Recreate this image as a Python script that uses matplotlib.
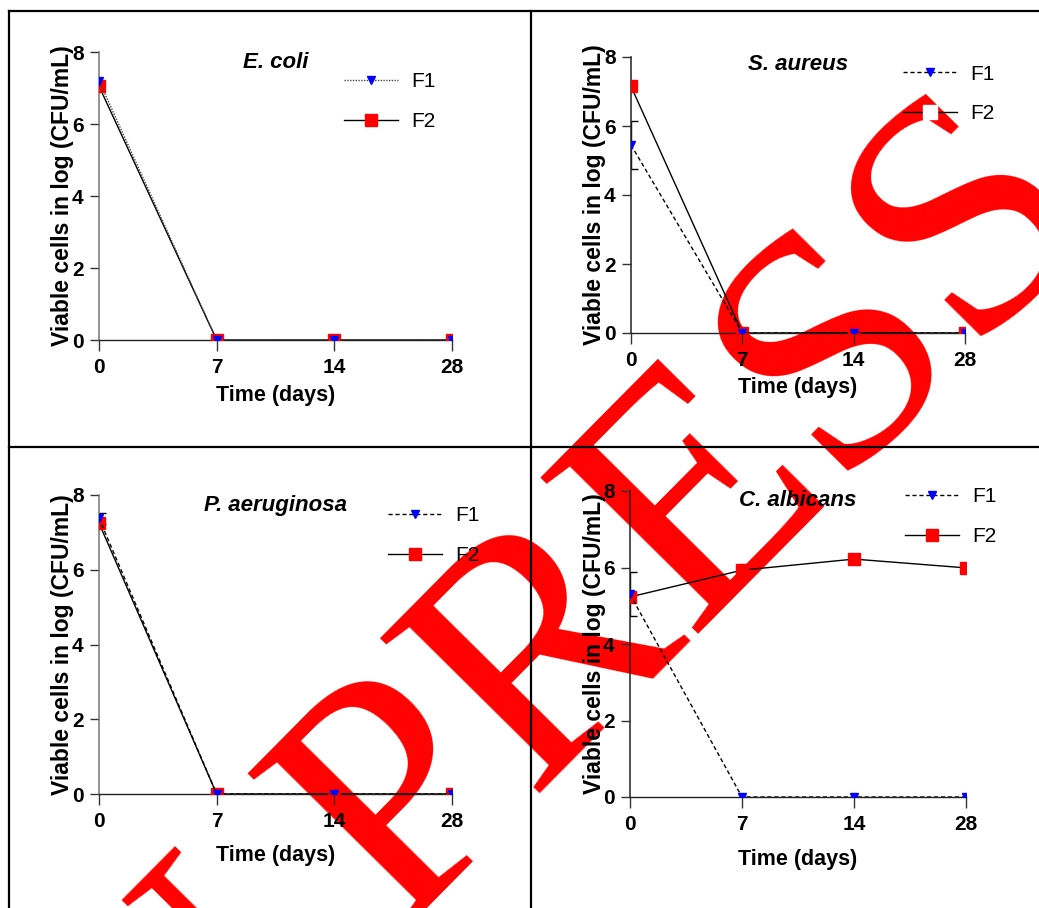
import matplotlib
matplotlib.use('Agg')
import matplotlib.pyplot as plt
from matplotlib.lines import Line2D
from matplotlib.font_manager import FontProperties
import numpy as np

# ---------------- data ----------------
days = ['0', '7', '14', '28']
yticks = [0, 2, 4, 6, 8]

ecoli_f1 = [7.2, 0, 0, 0]
ecoli_f1_err = [0, 0, 0, 0]
ecoli_f2 = [7.05, 0, 0, 0]

saureus_f1 = [5.45, 0, 0, 0]
saureus_f1_err = [0.7, 0, 0, 0]
saureus_f2 = [7.15, 0, 0, 0]

paer_f1 = [7.38, 0, 0, 0]
paer_f1_err = [0.15, 0, 0, 0]
paer_f2 = [7.25, 0, 0, 0]

calb_f1 = [5.3, 0, 0, 0]
calb_f1_err = [0.58, 0, 0, 0]
calb_f2 = [5.23, 5.93, 6.22, 5.99]

titles = ['E. coli', 'S. aureus', 'P. aeruginosa', 'C. albicans']
series_labels = ['F1', 'F2']
xlabel = 'Time (days)'
ylabel = 'Viable cells in log (CFU/mL)'
watermark = 'IN PRESS'

# ---------------- layout ----------------
W, H = 1039, 908
fig = plt.figure(figsize=(W / 100, H / 100), dpi=100)


def fx(x):
    return x / W


def fy(y):
    return 1 - y / H


NARROW = ['Liberation Sans Narrow', 'Liberation Sans', 'DejaVu Sans']
SANS = ['Liberation Sans', 'DejaVu Sans']

# watermark (beneath everything)
fig.text(fx(87), fy(1252), watermark, rotation=45.3, rotation_mode='anchor',
         ha='left', va='baseline', fontsize=245, family='Liberation Serif',
         color='#ff0000', zorder=-1)

# table borders
for (x0, y0, x1, y1) in [(9, 11, W, 11), (9, 11, 9, H), (531, 11, 531, H), (9, 447, W, 447)]:
    fig.add_artist(Line2D([fx(x0), fx(x1)], [fy(y0), fy(y1)], transform=fig.transFigure,
                          color='black', lw=1.6, zorder=10))

panels = [
    dict(data=(ecoli_f1, ecoli_f1_err, ecoli_f2), box=(99, 52, 452, 340), leg=(344, 101.5),
         title_dy=10, xl_dy=55, yl_dx=37, f1ls=(0, (1, 1)), f1col='#444444', gapF2=False,
         lcol='#777777'),
    dict(data=(saureus_f1, saureus_f1_err, saureus_f2), box=(631, 57, 965, 333), leg=(903, 94),
         title_dy=8, xl_dy=55, yl_dx=36, f1ls=(0, (3, 2)), f1col='black', gapF2=True,
         lcol='#222222'),
    dict(data=(paer_f1, paer_f1_err, paer_f2), box=(99, 495, 452, 794), leg=(388, 535.5),
         title_dy=10, xl_dy=61, yl_dx=37, f1ls=(0, (3, 2)), f1col='black', gapF2=False,
         lcol='#777777'),
    dict(data=(calb_f1, calb_f1_err, calb_f2), box=(630, 491, 966, 797), leg=(905, 516.5),
         title_dy=9, xl_dy=63, yl_dx=35, f1ls=(0, (3, 2)), f1col='black', gapF2=False,
         lcol='#222222'),
]

x = np.arange(len(days))
for p, title in zip(panels, titles):
    l, t, r, b = p['box']
    axw, axh = r - l, b - t
    ax = fig.add_axes([fx(l), fy(b), axw / W, axh / H])
    ax.set_zorder(1)
    ax.patch.set_facecolor('none')
    f1, f1err, f2 = p['data']

    l2, = ax.plot(x, f2, color='black', lw=1.0, marker='s', ms=9, mfc='#ff0000',
                  mec='#ff0000', zorder=3)
    l1, = ax.plot(x, f1, color=p['f1col'], ls=p['f1ls'], lw=1.0, marker='v', ms=6,
                  mfc='#0000ff', mec='#0000ff', zorder=4)
    err = np.asarray(f1err, dtype=float)
    m = err > 0
    if m.any():
        ax.errorbar(x[m], np.asarray(f1, dtype=float)[m], yerr=err[m], fmt='none',
                    ecolor='black', elinewidth=1.0, capsize=5, capthick=1.0, zorder=2)

    ax.set_xlim(0, 3)
    ax.set_ylim(0, 8)
    ax.set_xticks(x)
    ax.set_xticklabels(days)
    ax.set_yticks(yticks)
    for s in ['top', 'right']:
        ax.spines[s].set_visible(False)
    ax.spines['left'].set_linewidth(1.1)
    ax.spines['left'].set_color(p['lcol'])
    ax.spines['bottom'].set_linewidth(1.0)
    ax.spines['bottom'].set_color('#222222')
    ax.tick_params(axis='x', length=8, width=1.0, pad=5, color='#333333')
    ax.tick_params(axis='y', length=6.5, width=1.0, pad=4.5, color='#333333')
    for lab in ax.get_xticklabels() + ax.get_yticklabels():
        lab.set_fontproperties(FontProperties(family=NARROW, weight='bold', size=15))

    ax.set_xlabel(xlabel, fontproperties=FontProperties(family=NARROW, weight='bold', size=15.5))
    ax.xaxis.set_label_coords(0.5, -p['xl_dy'] / axh)
    ax.xaxis.label.set_va('center')
    ax.set_ylabel(ylabel, fontproperties=FontProperties(family=SANS, weight='bold', size=16.5))
    ax.yaxis.set_label_coords(-p['yl_dx'] / axw, 0.5)
    ax.yaxis.label.set_va('center')

    ax.text(0.5, 1 - p['title_dy'] / axh, title, transform=ax.transAxes, ha='center',
            va='center', fontproperties=FontProperties(family=SANS, weight='bold',
                                                       style='italic', size=16))

    if p['gapF2']:
        h2 = Line2D([], [], color='black', lw=1.0, marker='s', ms=9.5, mfc='white', mec='white')
    else:
        h2 = l2
    lx, ly = p['leg']
    ax.legend([l1, h2], series_labels, loc='center left', bbox_to_anchor=(fx(lx), fy(ly)),
              bbox_transform=fig.transFigure, frameon=False, borderpad=0, borderaxespad=0,
              handlelength=2.6, handletextpad=0.65, labelspacing=1.0,
              prop=FontProperties(family=NARROW, size=15))

fig.savefig('out.png', dpi=100)
